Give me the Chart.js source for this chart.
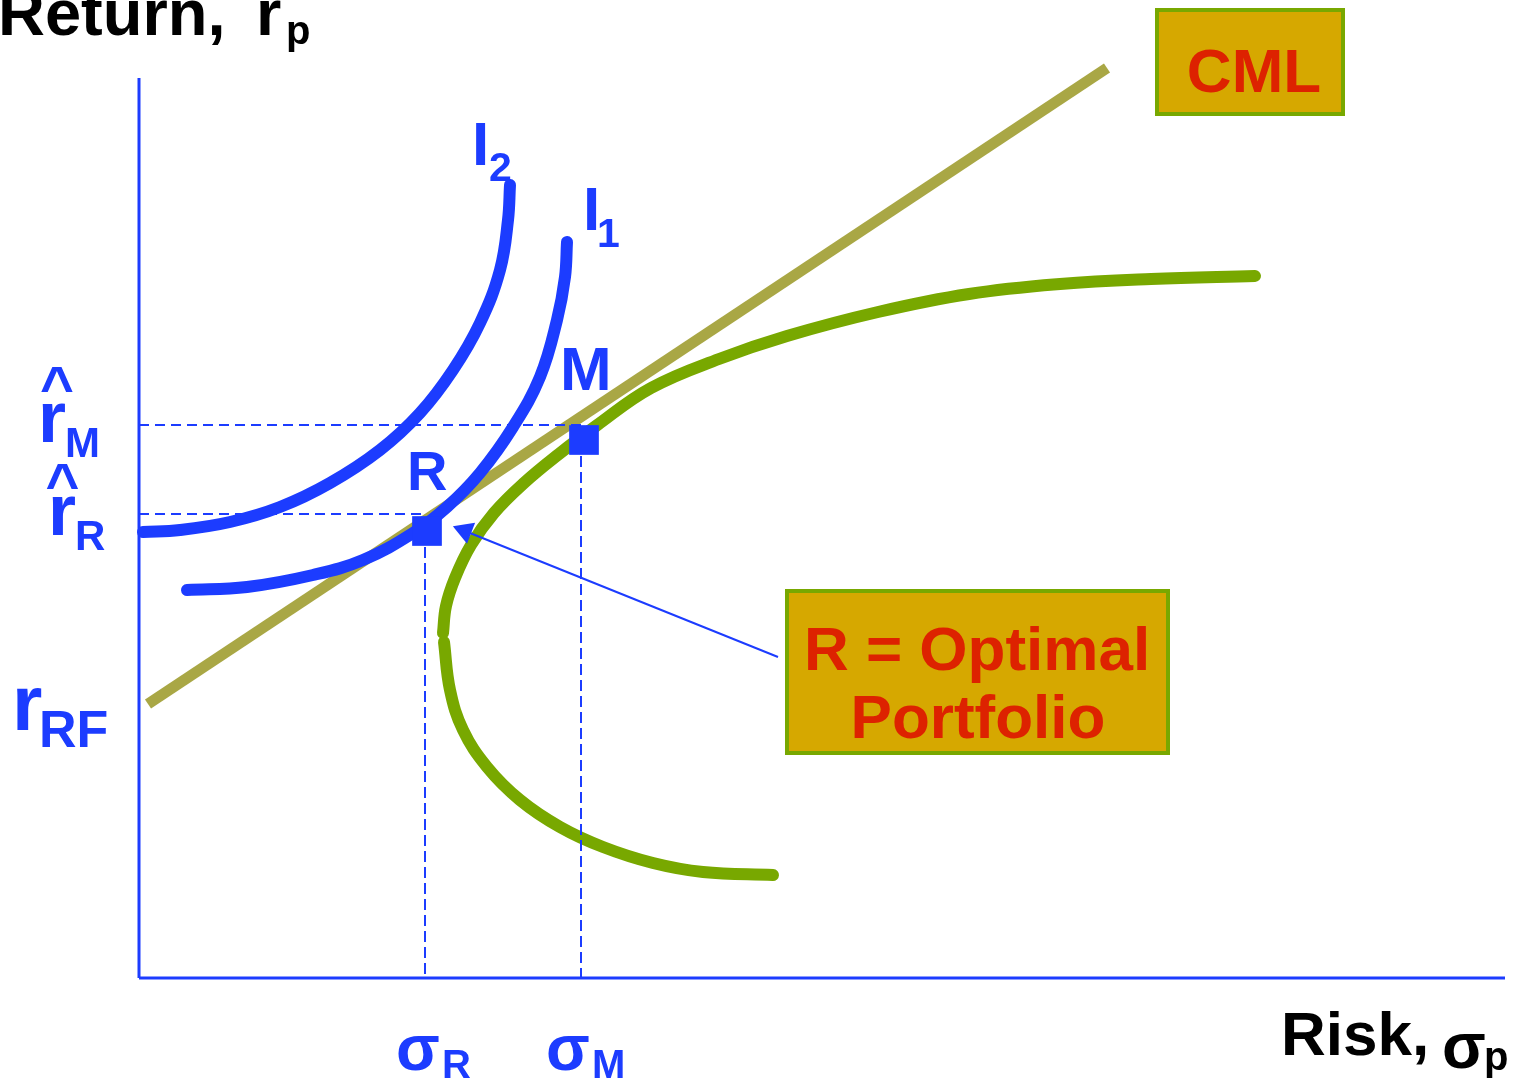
<!DOCTYPE html>
<html>
<head>
<meta charset="utf-8">
<title>CML e carteira ótima</title>
<script src="https://cdn.jsdelivr.net/npm/chart.js@4.4.0/dist/chart.umd.min.js"></script>
<style>
  html, body { margin: 0; padding: 0; background: #fff; }
  #wrap { width: 1529px; height: 1083px; }
</style>
</head>
<body>
<div id="wrap"><canvas id="cmlChart"></canvas></div>
<script>
// -----------------
// Dados (risco no eixo x, retorno no eixo y)
// -----------------
const riskMax = 13.66;
const returnMax = 9;

const cml = [{x: 0.09, y: 2.74}, {x: 9.68, y: 9.10}];

const frontierUpper = [
  {x: 3.04, y: 3.45}, {x: 3.07, y: 3.72}, {x: 3.16, y: 4.00}, {x: 3.32, y: 4.33},
  {x: 3.55, y: 4.65}, {x: 3.85, y: 4.95}, {x: 4.20, y: 5.24}, {x: 4.57, y: 5.52},
  {x: 5.12, y: 5.90}, {x: 5.80, y: 6.19}, {x: 6.48, y: 6.42}, {x: 7.39, y: 6.66},
  {x: 8.30, y: 6.84}, {x: 9.21, y: 6.94}, {x: 10.12, y: 6.99}, {x: 11.16, y: 7.02}
];
const frontierLower = [
  {x: 3.05, y: 3.36}, {x: 3.11, y: 2.88}, {x: 3.24, y: 2.48}, {x: 3.48, y: 2.11},
  {x: 3.81, y: 1.78}, {x: 4.21, y: 1.51}, {x: 4.64, y: 1.31}, {x: 5.14, y: 1.15},
  {x: 5.64, y: 1.06}, {x: 6.34, y: 1.03}
];

const indiff2 = [
  {x: 0.04, y: 4.46}, {x: 0.41, y: 4.48}, {x: 0.91, y: 4.56}, {x: 1.41, y: 4.71},
  {x: 1.91, y: 4.95}, {x: 2.41, y: 5.28}, {x: 2.81, y: 5.65}, {x: 3.14, y: 6.08},
  {x: 3.41, y: 6.55}, {x: 3.61, y: 7.08}, {x: 3.69, y: 7.58}, {x: 3.71, y: 7.93}
];
const indiff1 = [
  {x: 0.48, y: 3.88}, {x: 1.08, y: 3.91}, {x: 1.74, y: 4.03}, {x: 2.24, y: 4.18},
  {x: 2.74, y: 4.45}, {x: 3.08, y: 4.71}, {x: 3.41, y: 5.05}, {x: 3.74, y: 5.51},
  {x: 4.01, y: 6.01}, {x: 4.18, y: 6.58}, {x: 4.26, y: 7.01}, {x: 4.28, y: 7.36}
];

const portfolios = [{x: 2.88, y: 4.47}, {x: 4.45, y: 5.38}];   // R, M
const returnR = 4.64, returnM = 5.53;
const riskR = 2.86, riskM = 4.42;

const arrowLine = [{x: 6.39, y: 3.21}, {x: 3.26, y: 4.47}];
const arrowHead = [{x: 3.26, y: 4.47}];

// -----------------
// Cores e textos
// -----------------
const blue = '#1c3cff';
const olive = '#a9a745';
const green = '#78a800';
const gold = '#d6a800';
const red = '#dd2200';

const labels = [
  {text: 'Return,', x: -1.41, y: 9.43, size: 65, color: '#000'},
  {text: 'r', x: 1.17, y: 9.43, size: 65, color: '#000'},
  {text: 'p', x: 1.47, y: 9.34, size: 40, color: '#000'},
  {text: '^', x: -0.82, y: 5.72, size: 58, color: blue, align: 'center'},
  {text: 'r', x: -1.01, y: 5.36, size: 72, color: blue},
  {text: 'M', x: -0.74, y: 5.21, size: 42, color: blue},
  {text: '^', x: -0.765, y: 4.75, size: 58, color: blue, align: 'center'},
  {text: 'r', x: -0.91, y: 4.43, size: 72, color: blue},
  {text: 'R', x: -0.64, y: 4.28, size: 42, color: blue},
  {text: 'r', x: -1.27, y: 2.48, size: 78, color: blue},
  {text: 'RF', x: -1.00, y: 2.31, size: 52, color: blue},
  {text: 'R', x: 2.68, y: 4.88, size: 56, color: blue},
  {text: 'M', x: 4.21, y: 5.88, size: 62, color: blue},
  {text: 'I', x: 3.33, y: 8.13, size: 62, color: blue},
  {text: '2', x: 3.50, y: 7.97, size: 41, color: blue},
  {text: 'I', x: 4.44, y: 7.48, size: 62, color: blue},
  {text: '1', x: 4.58, y: 7.31, size: 41, color: blue},
  {text: 'σ', x: 2.57, y: -0.92, size: 64, color: blue},
  {text: 'R', x: 3.03, y: -1.00, size: 40, color: blue},
  {text: 'σ', x: 4.07, y: -0.92, size: 64, color: blue},
  {text: 'M', x: 4.53, y: -1.00, size: 40, color: blue},
  {text: 'Risk,', x: 11.42, y: -0.77, size: 62, color: '#000'},
  {text: 'σ', x: 13.03, y: -0.90, size: 64, color: '#000'},
  {text: 'p', x: 13.45, y: -0.92, size: 40, color: '#000'}
];

const boxes = [
  {x0: 10.18, x1: 12.04, y0: 9.68, y1: 8.64, lines: [{text: 'CML', x: 11.15, y: 8.86}]},
  {x0: 6.48, x1: 10.29, y0: 3.87, y1: 2.25, lines: [
    {text: 'R = Optimal', x: 8.38, y: 3.08},
    {text: 'Portfolio', x: 8.39, y: 2.40}
  ]}
];

const font = size => `bold ${size}px "Liberation Sans", Arial, sans-serif`;

const textPlugin = {
  id: 'texts',
  afterDatasetsDraw(chart) {
    const {ctx, scales: {x, y}} = chart;
    ctx.save();
    ctx.textBaseline = 'alphabetic';
    boxes.forEach(b => {
      const left = x.getPixelForValue(b.x0), right = x.getPixelForValue(b.x1);
      const top = y.getPixelForValue(b.y0), bottom = y.getPixelForValue(b.y1);
      ctx.fillStyle = gold;
      ctx.fillRect(left, top, right - left, bottom - top);
      ctx.lineWidth = 4;
      ctx.strokeStyle = green;
      ctx.strokeRect(left, top, right - left, bottom - top);
      ctx.fillStyle = red;
      ctx.textAlign = 'center';
      ctx.font = font(62);
      b.lines.forEach(l => ctx.fillText(l.text, x.getPixelForValue(l.x), y.getPixelForValue(l.y)));
    });
    labels.forEach(l => {
      ctx.font = font(l.size);
      ctx.fillStyle = l.color;
      ctx.textAlign = l.align || 'left';
      ctx.fillText(l.text, x.getPixelForValue(l.x), y.getPixelForValue(l.y));
    });
    ctx.restore();
  }
};

const curve = (data, color) => ({
  data, borderColor: color, borderWidth: 12,
  borderCapStyle: 'round', borderJoinStyle: 'round', tension: 0.4, pointRadius: 0
});
const thin = (data, dash) => ({
  data, borderColor: blue, borderWidth: 2,
  borderDash: dash || [], pointRadius: 0
});
const marker = (data, style, radius, rotation) => ({
  data, showLine: false, pointStyle: style, pointRadius: radius, pointRotation: rotation,
  pointBackgroundColor: blue, pointBorderWidth: 0
});

new Chart(document.getElementById('cmlChart'), {
  type: 'line',
  data: {
    datasets: [
      marker(portfolios, 'rect', 21, 0),
      marker(arrowHead, 'triangle', 13, -69),
      thin(arrowLine),
      thin([{x: 0, y: returnM}, {x: portfolios[1].x, y: returnM}], [10, 6]),
      thin([{x: 0, y: returnR}, {x: portfolios[0].x, y: returnR}], [10, 6]),
      thin([{x: riskR, y: portfolios[0].y}, {x: riskR, y: 0}], [11, 5]),
      thin([{x: riskM, y: portfolios[1].y}, {x: riskM, y: 0}], [11, 5]),
      curve(indiff1, blue),
      curve(indiff2, blue),
      curve(frontierUpper, green),
      curve(frontierLower, green),
      {...curve(cml, olive), borderWidth: 11, borderCapStyle: 'butt', tension: 0},
      {...thin([{x: 0, y: 0}, {x: 0, y: returnMax}]), borderWidth: 3},
      {...thin([{x: 0, y: 0}, {x: riskMax, y: 0}]), borderWidth: 3}
    ]
  },
  options: {
    responsive: true,
    maintainAspectRatio: false,
    animation: false,
    events: [],
    clip: false,
    layout: {padding: {left: 139, right: 24, top: 78, bottom: 105}},
    scales: {
      x: {type: 'linear', min: 0, max: riskMax, display: false},
      y: {type: 'linear', min: 0, max: returnMax, display: false}
    },
    plugins: {legend: {display: false}, tooltip: {enabled: false}}
  },
  plugins: [textPlugin]
});
</script>
</body>
</html>
